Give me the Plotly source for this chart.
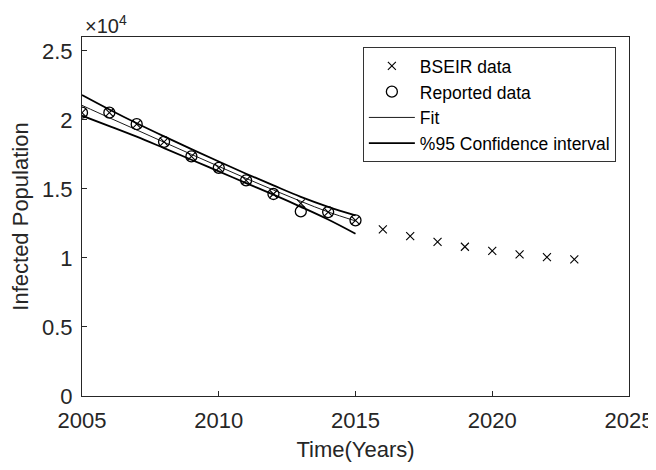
import plotly.graph_objects as go

years_reported = [2005, 2006, 2007, 2008, 2009, 2010, 2011, 2012, 2013, 2014, 2015]
reported = [20520, 20520, 19690, 18410, 17350, 16520, 15620, 14630, 13370, 13320, 12720]

years_bseir = [2005, 2006, 2007, 2008, 2009, 2010, 2011, 2012, 2013, 2014, 2015,
               2016, 2017, 2018, 2019, 2020, 2021, 2022, 2023]
bseir = [20520, 20520, 19690, 18410, 17350, 16520, 15620, 14630, 13950, 13320, 12720,
         12060, 11580, 11170, 10810, 10510, 10250, 10050, 9900]

years_fit = [2005, 2006, 2007, 2008, 2009, 2010, 2011, 2012, 2013, 2014, 2015]
fit = [21050, 20150, 19270, 18380, 17500, 16630, 15760, 14920, 14100, 13330, 12680]
ci_upper = [21800, 20750, 19750, 18800, 17880, 16980, 16100, 15250, 14420, 13700, 13080]
ci_lower = [20300, 19550, 18780, 17950, 17110, 16270, 15420, 14580, 13700, 12780, 11750]

yticks = [0, 5000, 10000, 15000, 20000, 25000]
ytick_text = ["0", "0.5", "1", "1.5", "2", "2.5"]
xticks = [2005, 2010, 2015, 2020, 2025]

axis_color = "#262626"
font_family = "Liberation Sans, Arial, sans-serif"

fig = go.Figure()
fig.add_trace(go.Scatter(
    x=years_bseir, y=bseir, mode="markers", name="BSEIR data",
    marker=dict(symbol="x-thin-open", size=8, color="black", line=dict(width=1.1, color="black")),
))
fig.add_trace(go.Scatter(
    x=years_reported, y=reported, mode="markers", name="Reported data",
    marker=dict(symbol="circle-open", size=11, color="black", line=dict(width=1.3, color="black")),
))
fig.add_trace(go.Scatter(
    x=years_fit, y=fit, mode="lines", name="Fit",
    line=dict(color="black", width=0.9, shape="spline"),
))
fig.add_trace(go.Scatter(
    x=years_fit, y=ci_upper, mode="lines", name="%95 Confidence interval",
    line=dict(color="black", width=1.8, shape="spline"),
))
fig.add_trace(go.Scatter(
    x=years_fit, y=ci_lower, mode="lines", name="%95 Confidence interval",
    line=dict(color="black", width=1.8, shape="spline"), showlegend=False,
))

fig.update_layout(
    width=656, height=470,
    margin=dict(l=74, r=35, t=29, b=82, autoexpand=False),
    paper_bgcolor="white", plot_bgcolor="white",
    font=dict(family=font_family, color=axis_color, size=20),
    showlegend=True,
    legend=dict(
        x=0.976, y=0.972, xanchor="right", yanchor="top",
        bgcolor="white", bordercolor="#333333", borderwidth=1,
        font=dict(size=17.5, color="black", family=font_family),
        tracegroupgap=0, itemwidth=46,
    ),
    xaxis=dict(
        range=[2005, 2025], tickvals=xticks, ticks="inside", ticklen=5,
        tickcolor=axis_color, showline=True, linecolor=axis_color, linewidth=1,
        mirror=True, showgrid=False, zeroline=False, automargin=False,
        tickfont=dict(size=22, color=axis_color), ticklabelstandoff=5,
        title=dict(text="Time(Years)", font=dict(size=22, color=axis_color), standoff=9),
    ),
    yaxis=dict(
        range=[0, 26000], tickvals=yticks, ticktext=ytick_text, ticks="inside", ticklen=5,
        tickcolor=axis_color, showline=True, linecolor=axis_color, linewidth=1,
        mirror=True, showgrid=False, zeroline=False, automargin=False,
        tickfont=dict(size=22, color=axis_color), ticklabelstandoff=4,
        title=dict(text="Infected Population", font=dict(size=22, color=axis_color), standoff=8),
    ),
    annotations=[dict(
        text="×10<sup>4</sup>", xref="paper", yref="paper", x=0, y=1,
        xanchor="left", yanchor="middle", showarrow=False,
        font=dict(size=20, color=axis_color), yshift=13, xshift=1,
    )],
)

fig.write_html("out.html")
